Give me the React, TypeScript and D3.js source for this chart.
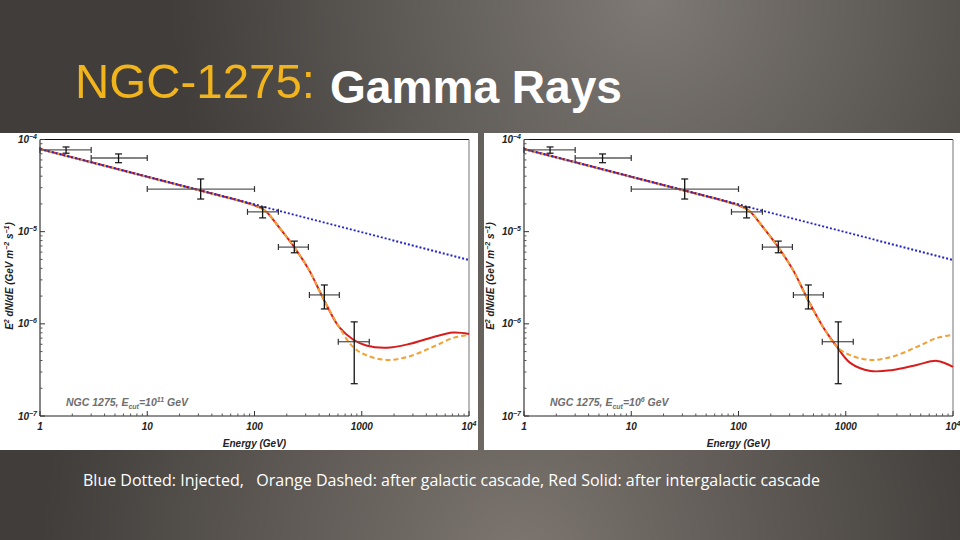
import React from 'react';
import * as d3 from 'd3';

// ---- data ----
const pointE = [1.75, 5.4, 31.5, 119, 235, 448, 851];
const pointELow = [1, 3, 10, 86, 167, 325, 604];
const pointEHigh = [3, 10, 100, 167, 318, 618, 1175];
const pointFlux = [7.7e-5, 6.3e-5, 2.9e-5, 1.64e-5, 6.8e-6, 2.06e-6, 6.4e-7];
const pointFluxLow = [7.1e-5, 5.6e-5, 2.26e-5, 1.41e-5, 5.9e-6, 1.45e-6, 2.24e-7];
const pointFluxHigh = [8.3e-5, 6.97e-5, 3.73e-5, 1.85e-5, 7.9e-6, 2.64e-6, 1.05e-6];

const injectedE = [1, 10000];
const injectedFlux = [7.89e-5, 4.93e-6];

const curveE = [1, 10, 40, 80, 123, 169, 234, 322, 444, 614, 829, 1100, 1700, 2750, 4600, 7100, 10000];
const galacticFlux = [7.89e-5, 3.94e-5, 2.59e-5, 2.1e-5, 1.72e-5, 1.12e-5, 6.82e-6, 3.85e-6, 1.82e-6, 9.25e-7, 5.62e-7, 4.57e-7, 4.06e-7, 4.42e-7, 5.62e-7, 7.03e-7, 7.59e-7];
const intergalacticFluxLeft = [7.89e-5, 3.94e-5, 2.59e-5, 2.1e-5, 1.72e-5, 1.12e-5, 6.82e-6, 3.85e-6, 1.82e-6, 9.25e-7, 6.76e-7, 5.82e-7, 5.5e-7, 6.03e-7, 7.16e-7, 8.04e-7, 7.76e-7];
const intergalacticFluxRight = [7.89e-5, 3.94e-5, 2.59e-5, 2.1e-5, 1.72e-5, 1.12e-5, 6.82e-6, 3.85e-6, 1.82e-6, 9.25e-7, 5.62e-7, 3.77e-7, 3.08e-7, 3.16e-7, 3.58e-7, 3.96e-7, 3.41e-7];

const xTickValues = [1, 10, 100, 1000, 10000];
const xTickBase = ['1', '10', '100', '1000', '10'];
const xTickSup = ['', '', '', '', '4'];
const yTickValues = [1e-7, 1e-6, 1e-5, 1e-4];
const yTickSup = ['\u22127', '\u22126', '\u22125', '\u22124'];
const panelCutoffExp = ['11', '6'];

const FONT = "'Liberation Sans', Arial, sans-serif";

type PanelProps = {
  bgX: number;
  bgW: number;
  ax0: number;
  ax1: number;
  redFlux: number[];
  cutExp: string;
  ylabelX: number;
};

function Panel({ bgX, bgW, ax0, ax1, redFlux, cutExp, ylabelX }: PanelProps) {
  const top = 139.5;
  const bottom = 416;
  const x = d3.scaleLog().domain([1, 10000]).range([ax0, ax1]);
  const y = d3.scaleLog().domain([1e-7, 1e-4]).range([bottom, top]);

  const line = d3
    .line<[number, number]>()
    .x((d) => x(d[0]))
    .y((d) => y(d[1]))
    .curve(d3.curveCatmullRom.alpha(0.5));

  const galactic = line(curveE.map((e, i) => [e, galacticFlux[i]] as [number, number])) || '';
  const red = line(curveE.map((e, i) => [e, redFlux[i]] as [number, number])) || '';
  const injected =
    d3
      .line<[number, number]>()
      .x((d) => x(d[0]))
      .y((d) => y(d[1]))(injectedE.map((e, i) => [e, injectedFlux[i]] as [number, number])) || '';

  const xMinor: number[] = [];
  for (let d = 0; d < 4; d++) {
    for (let m = 2; m <= 9; m++) xMinor.push(m * Math.pow(10, d));
  }
  const yMinor: number[] = [];
  for (let d = -7; d < -4; d++) {
    for (let m = 2; m <= 9; m++) yMinor.push(m * Math.pow(10, d));
  }

  const labelStyle = {
    fontFamily: FONT,
    fontWeight: 700,
    fontStyle: 'italic' as const,
    fontSize: 10,
    fill: '#222',
  };

  return (
    <g>
      <rect x={bgX} y={133} width={bgW} height={317} fill="#ffffff" />
      {/* frame */}
      <line x1={ax0} x2={ax1} y1={top} y2={top} stroke="#111" strokeWidth={1.2} />
      <line x1={ax1} x2={ax1} y1={top} y2={bottom} stroke="#8a8a8a" strokeWidth={1.2} />
      <line x1={ax0} x2={ax0} y1={top} y2={bottom} stroke="#222" strokeWidth={1.1} />
      <line x1={ax0} x2={ax1} y1={bottom} y2={bottom} stroke="#222" strokeWidth={1.1} />
      {/* x ticks */}
      {xTickValues.map((v, i) => (
        <g key={'xt' + i}>
          <line x1={x(v)} x2={x(v)} y1={bottom} y2={bottom - 5} stroke="#333" />
          <text x={x(v)} y={430} textAnchor="middle" style={labelStyle}>
            {xTickBase[i]}
            {xTickSup[i] && (
              <tspan dy={-4} fontSize={7}>
                {xTickSup[i]}
              </tspan>
            )}
          </text>
        </g>
      ))}
      {xMinor.map((v, i) => (
        <line key={'xm' + i} x1={x(v)} x2={x(v)} y1={bottom} y2={bottom - 2.5} stroke="#555" />
      ))}
      {/* y ticks */}
      {yTickValues.map((v, i) => (
        <g key={'yt' + i}>
          <line x1={ax0} x2={ax0 + 5} y1={y(v)} y2={y(v)} stroke="#333" />
          <text x={ax0 - 3} y={y(v) + 3.5} textAnchor="end" style={labelStyle}>
            10
            <tspan dy={-4} fontSize={7}>
              {yTickSup[i]}
            </tspan>
          </text>
        </g>
      ))}
      {yMinor.map((v, i) => (
        <line key={'ym' + i} x1={ax0} x2={ax0 + 2.5} y1={y(v)} y2={y(v)} stroke="#555" />
      ))}
      {/* axis titles */}
      <text x={(ax0 + ax1) / 2} y={447} textAnchor="middle" style={labelStyle}>
        Energy (GeV)
      </text>
      <text
        transform={`translate(${ylabelX},${276}) rotate(-90)`}
        textAnchor="middle"
        style={labelStyle}
      >
        E<tspan dy={-4} fontSize={7}>2</tspan>
        <tspan dy={4}> dN/dE (GeV m</tspan>
        <tspan dy={-4} fontSize={7}>{'\u22122'}</tspan>
        <tspan dy={4}> s</tspan>
        <tspan dy={-4} fontSize={7}>{'\u22121'}</tspan>
        <tspan dy={4}>)</tspan>
      </text>
      {/* annotation */}
      <text x={ax0 + 26} y={406} style={{ ...labelStyle, fill: '#6e6e6e', fontSize: 10.5 }}>
        NGC 1275, E<tspan dy={2.5} fontSize={7}>cut</tspan>
        <tspan dy={-2.5}>=10</tspan>
        <tspan dy={-4} fontSize={7}>{cutExp}</tspan>
        <tspan dy={4}> GeV</tspan>
      </text>
      {/* curves */}
      <path d={red} fill="none" stroke="#d81c1c" strokeWidth={2} />
      <path d={galactic} fill="none" stroke="#f2a235" strokeWidth={2} strokeDasharray="5,3" />
      <path d={injected} fill="none" stroke="#2424c8" strokeWidth={2} strokeDasharray="2,2" />
      {/* data points */}
      {pointE.map((e, i) => (
        <g key={'p' + i}>
          <line x1={x(pointELow[i])} x2={x(pointEHigh[i])} y1={y(pointFlux[i])} y2={y(pointFlux[i])} stroke="#5a5a5a" strokeWidth={1.3} />
          <line x1={x(pointELow[i])} x2={x(pointELow[i])} y1={y(pointFlux[i]) - 3} y2={y(pointFlux[i]) + 3} stroke="#333" strokeWidth={1.2} />
          <line x1={x(pointEHigh[i])} x2={x(pointEHigh[i])} y1={y(pointFlux[i]) - 3} y2={y(pointFlux[i]) + 3} stroke="#333" strokeWidth={1.2} />
          <line x1={x(e)} x2={x(e)} y1={y(pointFluxHigh[i])} y2={y(pointFluxLow[i])} stroke="#111" strokeWidth={1.3} />
          <line x1={x(e) - 3.5} x2={x(e) + 3.5} y1={y(pointFluxHigh[i])} y2={y(pointFluxHigh[i])} stroke="#111" strokeWidth={1.2} />
          <line x1={x(e) - 3.5} x2={x(e) + 3.5} y1={y(pointFluxLow[i])} y2={y(pointFluxLow[i])} stroke="#111" strokeWidth={1.2} />
        </g>
      ))}
    </g>
  );
}

export default function App() {
  return (
    <svg
      width={960}
      height={540}
      viewBox="0 0 960 540"
      style={{ position: 'absolute', left: 0, top: 0, display: 'block' }}
    >
      <defs>
        <radialGradient id="glowTop" cx={650} cy={0} r={480} gradientUnits="userSpaceOnUse">
          <stop offset="0" stopColor="#7e7974" stopOpacity={1} />
          <stop offset="1" stopColor="#7e7974" stopOpacity={0} />
        </radialGradient>
        <radialGradient id="glowBottom" cx={520} cy={560} r={480} gradientUnits="userSpaceOnUse">
          <stop offset="0" stopColor="#7d7670" stopOpacity={1} />
          <stop offset="1" stopColor="#7d7670" stopOpacity={0} />
        </radialGradient>
      </defs>
      <rect x={0} y={0} width={960} height={540} fill="#403d3a" />
      <rect x={0} y={0} width={960} height={540} fill="url(#glowTop)" />
      <rect x={0} y={0} width={960} height={540} fill="url(#glowBottom)" />

      <text x={75} y={98} fill="#f2b41c" fontFamily={FONT} fontSize={49} textLength={240} lengthAdjust="spacingAndGlyphs">
        NGC-1275:
      </text>
      <text x={330} y={103} fill="#ffffff" fontFamily={FONT} fontWeight={700} fontSize={47} textLength={292} lengthAdjust="spacingAndGlyphs">
        Gamma Rays
      </text>

      <Panel bgX={0} bgW={478} ax0={40} ax1={469} redFlux={intergalacticFluxLeft} cutExp={panelCutoffExp[0]} ylabelX={13} />
      <Panel bgX={484} bgW={476} ax0={524} ax1={953} redFlux={intergalacticFluxRight} cutExp={panelCutoffExp[1]} ylabelX={494} />

      <text
        x={83}
        y={486}
        fill="#ffffff"
        fontFamily="'Open Sans', 'Liberation Sans', sans-serif"
        fontSize={16}
        textLength={737}
        lengthAdjust="spacingAndGlyphs"
        style={{ whiteSpace: 'pre' }}
      >
        {'Blue Dotted: Injected,   Orange Dashed: after galactic cascade, Red Solid: after intergalactic cascade'}
      </text>
    </svg>
  );
}
